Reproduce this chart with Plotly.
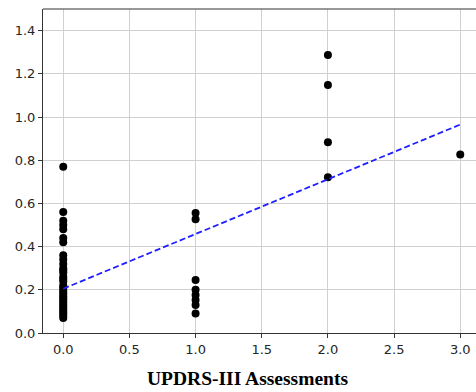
import plotly.graph_objects as go

# Scatter data (x = UPDRS-III assessment, y = value)
x0_vals = [0.77, 0.56, 0.52, 0.50, 0.48, 0.44, 0.42, 0.36, 0.34, 0.32, 0.30, 0.29,
           0.28, 0.26, 0.25, 0.24, 0.22, 0.21, 0.20, 0.19, 0.18, 0.17, 0.16, 0.15,
           0.14, 0.13, 0.12, 0.11, 0.10, 0.09, 0.08, 0.07]
x1_vals = [0.555, 0.527, 0.245, 0.20, 0.176, 0.153, 0.13, 0.09]
x2_vals = [1.287, 1.148, 0.883, 0.721]
x3_vals = [0.826]

groups = [0, 1, 2, 3]
group_values = [x0_vals, x1_vals, x2_vals, x3_vals]

# Fitted trend line endpoints
fit_x = [0, 3]
fit_y = [0.205, 0.965]

x_ticks = [0.0, 0.5, 1.0, 1.5, 2.0, 2.5, 3.0]
y_ticks = [0.0, 0.2, 0.4, 0.6, 0.8, 1.0, 1.2, 1.4]
x_title = "UPDRS-III Assessments"

xs, ys = [], []
for g, vals in zip(groups, group_values):
    xs += [g] * len(vals)
    ys += vals

fig = go.Figure()
fig.add_trace(go.Scatter(x=xs, y=ys, mode="markers",
                         marker=dict(color="black", size=8, line=dict(width=0)),
                         showlegend=False, cliponaxis=False))
fig.add_trace(go.Scatter(x=fit_x, y=fit_y, mode="lines",
                         line=dict(color="#1f1fff", width=1.8, dash="6px,3px"),
                         showlegend=False))

fig.update_layout(
    width=476, height=392,
    margin=dict(l=43, r=0, t=9, b=59),
    paper_bgcolor="white", plot_bgcolor="white",
    font=dict(family="DejaVu Sans", size=13, color="#262626"),
    xaxis=dict(range=[-0.153, 3.119], tickvals=x_ticks,
               ticktext=[f"{v:.1f}" for v in x_ticks],
               showgrid=True, gridcolor="#d0d0d0", gridwidth=1,
               showline=True, linecolor="#333333", linewidth=1,
               ticks="outside", ticklen=4, tickcolor="#333333",
               zeroline=False, fixedrange=True),
    yaxis=dict(range=[0, 1.5], tickvals=y_ticks,
               ticktext=[f"{v:.1f}" for v in y_ticks],
               showgrid=True, gridcolor="#d0d0d0", gridwidth=1,
               showline=True, linecolor="#333333", linewidth=1,
               ticks="outside", ticklen=4, tickcolor="#333333",
               zeroline=False, fixedrange=True),
    shapes=[dict(type="line", xref="paper", yref="paper", x0=0, x1=1, y0=1, y1=1,
                 line=dict(color="#333333", width=1.2), layer="above")],
    annotations=[dict(text="<b>" + x_title + "</b>", xref="paper", yref="paper",
                      x=0.4734, y=0, yshift=-45.5, xanchor="center", yanchor="middle",
                      showarrow=False,
                      font=dict(family="Liberation Serif", size=19.5, color="black"))],
)

fig.write_html("out.html", config={"displayModeBar": False},
               post_script="document.body.style.margin='0';document.body.style.overflow='hidden';")
